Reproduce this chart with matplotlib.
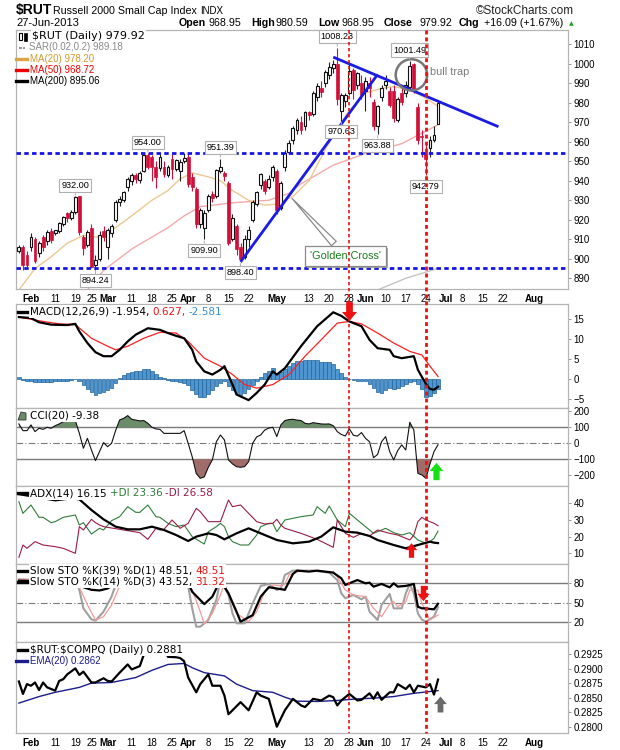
import matplotlib
matplotlib.use("Agg")
import numpy as np
import pandas as pd
import matplotlib.pyplot as plt
import matplotlib.patheffects as pe
from matplotlib import transforms
from matplotlib.lines import Line2D
from matplotlib.path import Path
from matplotlib.patches import Ellipse, Rectangle, Polygon
from matplotlib.ticker import FormatStrFormatter

plt.rcParams['font.family'] = ['Liberation Sans', 'DejaVu Sans']

W, H = 620, 750

# ---------------- trading calendar ----------------
holidays = ['2013-02-18', '2013-03-29', '2013-05-27', '2013-07-04']
cal = pd.bdate_range('2013-01-29', '2013-08-30')
cal = cal[~cal.isin(pd.to_datetime(holidays))]


def sess(md):
    return cal.get_loc(pd.Timestamp('2013-' + md))


# ---------------- daily candles, 29 Jan .. 27 Jun ----------------
opens = [904, 906, 902,
         906, 910, 903, 911, 909, 914, 913, 914, 918, 923.5,
         921, 924, 932, 911, 907, 916, 897, 900, 914, 906,
         913, 920, 929, 930, 937, 940, 943, 940.5, 945, 953,
         952, 947, 946.5, 947, 943, 951, 946, 945, 950, 952,
         942, 936, 918, 916, 925, 933, 932, 945, 944, 939,
         910, 917, 906, 901, 910, 920, 928, 938, 940, 937,
         942, 945, 926, 947, 955, 961, 966, 970, 968, 975,
         974, 983, 987.5, 990, 994, 998, 1000, 976, 981, 985,
         997, 989, 990, 986, 990, 980.5, 968, 983, 989, 986,
         986, 971, 985, 985, 988, 1000, 978, 963, 955, 957,
         961, 968.95]
highs = [907, 907, 904,
         913, 911, 909, 912, 915, 916, 915, 919, 922, 924,
         925, 932, 932, 912, 915, 918, 902, 914, 917, 916,
         918, 930, 932, 935, 942, 944, 944, 945, 953.5, 954,
         953, 950, 954, 950, 948, 954, 951, 951, 954, 954,
         944, 937, 926, 925, 933, 935, 946, 951.39, 945, 940,
         923, 918, 908, 912, 917, 930, 935, 944, 941, 943,
         948, 946, 940, 956, 961, 968, 972, 973, 976, 976,
         986, 990, 991, 997, 1001, 1002, 1008.23, 985, 985, 1001,
         998, 996, 994, 993, 993, 982, 979, 989, 994, 988,
         989, 983, 989, 991, 1001.49, 1000.5, 980, 966, 959, 963,
         968, 980.59]
lows = [903, 894, 896,
        904, 898, 901, 904, 907, 908, 912, 913, 917, 919,
        920, 923, 912, 902, 906, 895.5, 894.24, 899, 909, 900,
        911, 919, 927, 929, 935, 938, 939, 939, 944.5, 946,
        940, 936.5, 945, 942, 942, 941, 945, 940, 949, 937,
        935, 916, 916, 909.9, 924, 929, 931, 944, 940, 907,
        909, 902, 898.4, 900, 906, 919, 927, 936, 933, 936,
        940, 923, 925, 945, 954, 959, 964, 964, 966, 971,
        973, 981, 983, 988, 992, 995, 979, 970.63, 978, 984,
        982, 987, 982, 976, 983, 966, 963.88, 981, 987, 978,
        970, 970, 979, 983, 987, 985, 959, 952, 942.79, 952,
        960, 968.95]
closes = [906, 897, 897,
          911, 899, 908, 906, 913.5, 909.5, 914.5, 918.5, 921.5, 920.7,
          923.8, 931.8, 913.5, 905.3, 913.5, 896, 899.5, 912, 911, 914.5,
          917, 929, 930.5, 934, 941, 943, 941, 944, 953, 947,
          947, 942, 952, 943.5, 947, 946, 950.5, 949.5, 951.5, 938.5,
          937, 918, 925, 923.5, 932, 931, 945.5, 947, 942.5, 908,
          921, 905, 900, 910, 914.5, 929, 934, 943.5, 935, 941,
          947, 925, 939, 954, 959.5, 967, 971, 966, 975, 973.5,
          985, 988.5, 985.5, 996, 998.5, 1000, 982, 984, 984, 996.5,
          986.5, 995, 984, 991, 987.5, 968, 978.5, 987.5, 991, 979,
          972, 982, 980.5, 989, 999, 986, 961, 962.5, 951, 961,
          963.5, 979.92]

ma20_dates = ['01-29', '02-04', '02-08', '02-14', '02-21', '02-27', '03-05', '03-11', '03-18', '03-22',
              '03-27', '04-02', '04-08', '04-11', '04-16', '04-22', '04-26', '05-01', '05-07', '05-13',
              '05-17', '05-24', '05-28', '06-03', '06-07', '06-12', '06-18', '06-24', '06-27']
ma20_vals = [884, 895, 901, 908, 912, 911, 916, 922, 930, 935,
             941, 944, 942, 940, 935, 930, 927.5, 928, 932, 940,
             956, 973, 976, 985, 987.4, 988.3, 986.6, 982.3, 978.2]
ma50_dates = ['02-22', '02-28', '03-11', '03-22', '03-28', '04-04', '04-16', '04-29', '05-06', '05-09',
              '05-14', '05-21', '06-03', '06-14', '06-21', '06-27']
ma50_vals = [884, 894, 905, 916, 922, 926.7, 928.7, 930, 933.5, 938.5,
             942, 948, 954, 959, 964.4, 968.72]
ma200_dates = ['06-06', '06-17', '06-27']
ma200_vals = [884, 890, 895.06]

# analyst drawings on the price panel
support_levels = [954.0, 895.4]
uptrend_dates, uptrend_vals = ['04-18', '06-06'], [898.4, 994.5]
downtrend_dates, downtrend_vals = ['05-21', '07-19'], [1003.4, 967.7]
pivot_highs = ['05-22', '06-18', '03-15', '04-11', '02-19']
pivot_lows = ['05-23', '06-06', '06-24', '04-05', '04-18', '02-26']
event_dates = ['05-28', '06-24']

# ---------------- MACD ----------------
macd_dates = ['01-29', '02-01', '02-05', '02-08', '02-14', '02-19', '02-20', '02-22', '02-26', '02-28',
              '03-04', '03-06', '03-08', '03-12', '03-15', '03-20', '03-22', '03-26', '03-28', '04-02',
              '04-03', '04-05', '04-09', '04-11', '04-12', '04-16', '04-17', '04-22', '04-24', '04-26',
              '04-30', '05-01', '05-03', '05-09', '05-15', '05-21', '05-23', '05-28', '05-31', '06-04',
              '06-06', '06-11', '06-12', '06-14', '06-19', '06-20', '06-21', '06-24', '06-25', '06-26',
              '06-27']
macd_vals = [15.5, 15.25, 14.2, 13.6, 13.5, 13.8, 11.9, 9.0, 6.7, 5.7,
             5.7, 7.3, 9.4, 11.1, 12.7, 12.3, 11.5, 10.8, 10.2, 7.3,
             4.4, 1.9, 1.1, 2.3, 3.2, -1.4, -3.9, -5.3, -3.5, -1.4,
             1.9, 1.1, 2.7, 8.2, 13.2, 16.7, 15.8, 14.4, 13.2, 9.8,
             7.7, 7.3, 5.7, 5.2, 5.7, 2.3, 0.5, -1.2, -2.5, -2.7,
             -1.954]
signal_dates = ['01-29', '02-06', '02-12', '02-19', '02-25', '03-01', '03-05', '03-08', '03-14', '03-20',
                '03-26', '04-01', '04-05', '04-11', '04-16', '04-19', '04-24', '04-30', '05-06', '05-10',
                '05-16', '05-22', '05-28', '05-31', '06-06', '06-12', '06-18', '06-21', '06-25', '06-27']
signal_vals = [15.5, 14.4, 13.8, 13.6, 10.2, 8.2, 7.3, 8.2, 10.2, 11.7,
               11.5, 9.4, 5.2, 3.2, 1.1, -1.4, -2.3, -1.4, 1.1, 5.7,
               9.8, 14.0, 14.4, 13.8, 11.5, 9.0, 6.9, 6.0, 3.2, 0.627]
hist_vals = [0.6, -0.2, -0.4,
             -0.5, -0.8, -0.8, -0.8, -0.8, -0.8, -0.6, -0.5, -0.5, -0.4,
             -0.2, -0.1, -0.5, -1.5, -2.5, -3.3, -3.9, -3.6, -3.2, -2.8,
             -2.2, -1.0, 0.2, 1.0, 1.6, 1.8, 1.9, 2.0, 2.4, 2.5,
             2.0, 1.2, 0.6, 0.2, -0.3, -0.4, -0.5, -0.8, -1.0, -1.6,
             -2.8, -3.8, -4.4, -4.5, -3.8, -2.7, -1.8, -1.0, -0.6, -1.8,
             -2.8, -3.6, -4.0, -3.4, -2.6, -1.5, -0.4, 0.6, 1.4, 2.0,
             2.7, 1.5, 1.8, 2.6, 3.3, 4.0, 4.5, 4.6, 4.7, 4.8,
             4.8, 4.7, 4.3, 4.2, 4.2, 3.8, 2.5, 1.5, 0.6, 0.1,
             -0.2, -0.4, -0.5, -0.6, -1.2, -2.3, -3.2, -3.4, -2.8, -2.3,
             -2.6, -2.3, -1.8, -1.3, -0.7, -0.5, -1.2, -2.6, -4.6, -4.2,
             -3.6, -2.58]

# ---------------- CCI(20), daily ----------------
cci_vals = [121, 79, 79,
            115, 73, 94, 87, 100, 94, 110, 121, 135, 142,
            142, 142, 62, -31, 31, -42, -108, -52, 4, -21,
            0, 80, 146, 156, 173, 150, 145, 140, 142, 125,
            100, 90, 87, 62, 62, 62, 62, 62, 79, 0,
            -84, -188, -219, -210, -150, -104, 10, 52, 21, -104,
            -129, -146, -150, -146, -115, 0, 40, 52, 83, 95,
            100, 42, 115, 142, 148, 150, 145, 142, 125, 121,
            129, 125, 121, 120, 121, 110, 73, 55, 46, 90,
            50, 45, 67, 31, 10, -90, -70, 10, 42, -52,
            -104, -45, -10, -42, 131, 83, -188, -198, -219, -129,
            -52, -9.38]

# ---------------- ADX(14) ----------------
adx_dates = ['01-29', '02-05', '02-11', '02-15', '02-20', '02-25', '02-28', '03-05', '03-08', '03-13',
             '03-18', '03-21', '03-26', '04-01', '04-03', '04-08', '04-10', '04-12', '04-17', '04-22',
             '04-25', '05-01', '05-07', '05-13', '05-16', '05-21', '05-24', '05-30', '06-04', '06-06',
             '06-12', '06-17', '06-20', '06-25', '06-26', '06-27']
adx_vals = [45.5, 43.5, 41.8, 43, 42.4, 36, 30.4, 26, 24.4, 24.4,
            26, 24, 21, 17.4, 20, 22, 21, 18.4, 22, 25,
            22, 18, 16, 17, 20, 25.6, 23, 22.4, 20.4, 18,
            15, 13, 15, 17, 16.4, 16.15]
pdi_dates = ['01-29', '01-30', '02-01', '02-05', '02-06', '02-08', '02-11', '02-13', '02-19', '02-20',
             '02-21', '02-25', '02-27', '02-28', '03-04', '03-06', '03-08', '03-12', '03-13', '03-15',
             '03-19', '03-20', '03-22', '03-26', '03-28', '04-02', '04-04', '04-05', '04-08', '04-10',
             '04-11', '04-12', '04-15', '04-16', '04-18', '04-22', '04-24', '04-25', '04-29', '04-30',
             '05-01', '05-03', '05-09', '05-14', '05-15', '05-17', '05-20', '05-22', '05-24', '05-28',
             '05-30', '06-03', '06-05', '06-10', '06-12', '06-14', '06-18', '06-20', '06-24', '06-25',
             '06-26', '06-27']
pdi_vals = [41, 34, 39, 31.6, 31.6, 28.4, 29, 31.6, 33, 27,
            28.4, 21.6, 25, 24, 29.6, 32, 38, 34.6, 34.6, 39,
            32, 31.6, 28, 26, 27, 20, 17, 15.6, 23, 26,
            28, 26, 20, 17, 15, 15, 21, 26, 28, 28,
            23, 30, 32, 33, 38, 34, 38.4, 30, 26, 34,
            30, 26, 22, 25, 22.4, 21, 22.4, 18, 16, 17,
            19, 23.36]
mdi_dates = ['01-29', '01-30', '01-31', '02-04', '02-06', '02-11', '02-13', '02-19', '02-20', '02-21',
             '02-25', '02-26', '02-27', '02-28', '03-08', '03-13', '03-15', '03-19', '03-20', '03-21',
             '03-25', '03-27', '04-01', '04-03', '04-04', '04-08', '04-11', '04-15', '04-16', '04-18',
             '04-22', '04-24', '04-26', '04-30', '05-01', '05-02', '05-03', '05-09', '05-15', '05-21',
             '05-22', '05-24', '05-29', '05-31', '06-04', '06-06', '06-11', '06-13', '06-17', '06-18',
             '06-19', '06-20', '06-21', '06-24', '06-26', '06-27']
mdi_vals = [7.6, 15, 13, 17, 15, 14, 13, 10, 26, 24,
            30.4, 28.4, 27, 26, 23.6, 22.4, 18.4, 25, 24, 24.4,
            30, 25, 28, 37, 35, 29, 29, 42, 38, 39,
            34, 29, 27.6, 28, 30.4, 27, 25, 22, 18.4, 13.6,
            30, 22, 19.6, 22, 20.4, 24, 22, 21, 19, 18,
            21, 29, 31.6, 30, 28, 26.58]

# ---------------- Slow stochastics ----------------
k39_dates = ['01-29', '02-08', '02-19', '02-20', '02-21', '02-25', '02-27', '03-01', '03-04', '03-07',
             '03-15', '03-20', '03-27', '04-01', '04-02', '04-05', '04-09', '04-11', '04-15', '04-17',
             '04-18', '04-23', '04-25', '04-29', '05-01', '05-03', '05-07', '05-08', '05-13', '05-15',
             '05-21', '05-23', '05-24', '05-29', '05-30', '06-03', '06-04', '06-05', '06-07', '06-11',
             '06-12', '06-13', '06-17', '06-19', '06-20', '06-21', '06-24', '06-25', '06-26', '06-27']
k39_vals = [84, 83, 86, 80, 74, 70, 69, 72, 76, 84,
            87, 85, 84, 80, 67, 48, 59.5, 85, 64.6, 36.4,
            21, 31, 59.5, 74, 72, 70, 94.4, 99.5, 98, 99.5,
            96.4, 87.7, 77.4, 82.6, 85, 80, 81, 74.9, 79, 73.8,
            80, 74.9, 76, 79, 44, 41.5, 41.5, 40.5, 40, 48.51]
k14_dates = ['01-29', '02-11', '02-19', '02-20', '02-21', '02-25', '02-26', '02-28', '03-04', '03-05',
             '03-08', '03-15', '03-19', '03-22', '03-28', '04-01', '04-02', '04-03', '04-04', '04-08',
             '04-10', '04-11', '04-15', '04-16', '04-17', '04-19', '04-23', '04-25', '04-29', '05-01',
             '05-02', '05-03', '05-07', '05-14', '05-20', '05-22', '05-23', '05-24', '05-29', '05-31',
             '06-03', '06-04', '06-06', '06-07', '06-11', '06-12', '06-14', '06-17', '06-18', '06-19',
             '06-20', '06-21', '06-24', '06-26', '06-27']
k14_vals = [86, 84, 87, 70, 41.5, 24.6, 22.6, 36.4, 59.5, 78,
            86, 88, 82, 84, 86, 75, 41.5, 13.3, 13.3, 23.6,
            54.4, 85, 62, 33.8, 18.5, 18.5, 49, 76, 79, 69.7,
            72.3, 92.8, 99.5, 99.5, 96.4, 85, 64.6, 57, 62, 55.4,
            59.5, 36.4, 23.6, 46.7, 63.6, 41.5, 41.5, 64.6, 79, 64.6,
            33.8, 24, 21, 28.7, 43.52]
d3_dates = ['01-29', '02-19', '02-20', '02-22', '02-26', '02-28', '03-04', '03-06', '03-08', '03-15',
            '03-20', '03-28', '04-01', '04-02', '04-04', '04-05', '04-09', '04-11', '04-12', '04-15',
            '04-17', '04-22', '04-24', '04-26', '04-30', '05-02', '05-03', '05-06', '05-09', '05-21',
            '05-22', '05-24', '05-29', '06-03', '06-05', '06-07', '06-11', '06-12', '06-13', '06-17',
            '06-18', '06-20', '06-21', '06-25', '06-27']
d3_vals = [86, 86, 74, 46.7, 23.6, 28.7, 46.7, 76, 85, 88,
           84, 85, 80, 69.7, 36.4, 17.4, 33.8, 62, 80, 62,
           33.8, 21, 36.4, 67.2, 77.4, 76, 79, 92.8, 99.5, 98,
           90, 69.7, 62, 59.5, 41.5, 28.7, 48.2, 51.8, 44, 51.8,
           69.7, 69.7, 49, 23.6, 31.32]

# ---------------- $RUT:$COMPQ ----------------
ratio_dates = ['01-29', '01-30', '01-31', '02-01', '02-04', '02-05', '02-06', '02-07', '02-11', '02-12',
               '02-13', '02-14', '02-19', '02-20', '02-21', '02-25', '02-26', '02-28', '03-01', '03-04',
               '03-06', '03-08', '03-11', '03-13', '03-14', '03-18', '03-21', '03-22', '03-26', '03-27',
               '03-28', '04-01', '04-03', '04-04', '04-08', '04-09', '04-11', '04-12', '04-15', '04-16',
               '04-18', '04-22', '04-24', '04-25', '04-29', '05-01', '05-02', '05-03', '05-07', '05-09',
               '05-10', '05-14', '05-16', '05-20', '05-21', '05-22', '05-23', '05-28', '05-30', '05-31',
               '06-04', '06-05', '06-06', '06-07', '06-11', '06-12', '06-13', '06-17', '06-18', '06-19',
               '06-20', '06-24', '06-25', '06-26', '06-27']
ratio_vals = [0.28777, 0.28563, 0.28732, 0.28704, 0.2876, 0.2863, 0.2876, 0.28676, 0.2862, 0.28788,
              0.28816, 0.289, 0.29002, 0.2889, 0.28946, 0.2876, 0.2876, 0.28833, 0.28788, 0.28777,
              0.28929, 0.2907, 0.28985, 0.29042, 0.29239, 0.2935, 0.2935, 0.292, 0.29194, 0.2918,
              0.29126, 0.28845, 0.28591, 0.28732, 0.289, 0.28704, 0.28704, 0.28535, 0.28214, 0.28282,
              0.28422, 0.28282, 0.28591, 0.28535, 0.28479, 0.28, 0.28141, 0.28282, 0.28479, 0.28366,
              0.28338, 0.28479, 0.28451, 0.28535, 0.28507, 0.28366, 0.28451, 0.28563, 0.28451, 0.28462,
              0.28574, 0.28479, 0.28591, 0.28462, 0.28591, 0.28591, 0.28732, 0.28648, 0.28721, 0.28591,
              0.28704, 0.28676, 0.28732, 0.28552, 0.2881]
ema_dates = ['01-29', '02-05', '02-11', '02-20', '02-25', '03-04', '03-12', '03-18', '03-22', '03-28',
             '04-02', '04-05', '04-12', '04-17', '04-23', '04-30', '05-03', '05-08', '05-15', '05-22',
             '05-30', '06-05', '06-12', '06-19', '06-27']
ema_vals = [0.28406, 0.28518, 0.28591, 0.28676, 0.28749, 0.2876, 0.28845, 0.28969, 0.2907, 0.29087,
            0.29014, 0.28929, 0.28873, 0.28732, 0.2862, 0.28591, 0.28507, 0.28439, 0.28434, 0.28451,
            0.28479, 0.2849, 0.28518, 0.28574, 0.2862]

tick_dates = ['02-01', '02-11', '02-19', '02-25', '03-01', '03-11', '03-18', '03-25', '04-01', '04-08',
              '04-15', '04-22', '05-01', '05-13', '05-20', '05-28', '06-03', '06-10', '06-17', '06-24',
              '07-01', '07-08', '07-15', '07-22', '08-01']
tick_labels = ['Feb', '11', '19', '25', 'Mar', '11', '18', '25', 'Apr', '8',
               '15', '22', 'May', '13', '20', '28', 'Jun', '10', '17', '24',
               'Jul', '8', '15', '22', 'Aug']

RED = '#d10f3a'
MA20_C, MA50_C = '#ebc98f', '#f5aaaa'


def xs(dates):
    return [sess(d) for d in dates]


# ---------------- figure ----------------
fig = plt.figure(figsize=(W / 100, H / 100), dpi=100)
fig.patch.set_facecolor('white')
rend = fig.canvas.get_renderer()


def fx(x):
    return x / W


def fy(y):
    return 1 - y / H


def row(x, y, pieces, size=7.0, family=None, bg=True, gap=3):
    for p in pieces:
        txt, color = p[0], p[1]
        weight = p[2] if len(p) > 2 else 'normal'
        kw = dict(color=color, fontsize=size, fontweight=weight, va='center', ha='left')
        if family:
            kw['family'] = family
        t = fig.text(fx(x), fy(y), txt, **kw)
        if bg:
            t.set_bbox(dict(facecolor='white', edgecolor='none', pad=1.0))
        x += t.get_window_extent(rend).width + gap
    return x


def icon(x0, x1, y, color, lw=2.4):
    fig.add_artist(Line2D([fx(x0), fx(x1)], [fy(y), fy(y)], color=color, lw=lw,
                          transform=fig.transFigure, zorder=5))


def panel(top, bottom, ylim, yticks):
    ax = fig.add_axes([16 / W, 1 - bottom / H, 552 / W, (bottom - top) / H])
    ax.set_xlim(-0.72, 136.25)
    ax.set_ylim(*ylim)
    ax.set_yticks(yticks)
    ax.yaxis.tick_right()
    ax.tick_params(axis='y', direction='out', length=2.5, width=0.7, color='#999999',
                   labelsize=7, pad=1.5)
    ax.set_xticks([])
    for sp in ax.spines.values():
        sp.set_color('#b4b4b4')
        sp.set_linewidth(0.9)
    return ax


def date_ticks(ax):
    ax.set_xticks(xs(tick_dates))
    ax.set_xticklabels(tick_labels)
    ax.tick_params(axis='x', length=0, labelsize=7, pad=3.5)
    for lab in ax.get_xticklabels():
        if not lab.get_text().isdigit():
            lab.set_fontweight('bold')


ax = panel(30, 289, (884.5, 1017.3), np.arange(890, 1011, 10))
ax_macd = panel(304.3, 407.7, (-7.2, 18.7), [-5, 0, 5, 10, 15])
ax_cci = panel(407.7, 486, (-267, 222.5), [-200, -100, 0, 100, 200])
ax_adx = panel(486, 564, (3.6, 50.4), [10, 20, 30, 40])
ax_sto = panel(564, 641.7, (-9.8, 109.7), [20, 50, 80])
ax_rat = panel(641.7, 732.7, (0.27897, 0.29461), np.arange(0.28, 0.29251, 0.0025))
ax_rat.yaxis.set_major_formatter(FormatStrFormatter('%.4f'))
date_ticks(ax)
date_ticks(ax_rat)

# ---------------- price panel ----------------
n = len(closes)
xc = np.arange(n)
o, hi, lo, c = map(np.array, (opens, highs, lows, closes))
up = c >= o
ax.plot(xs(ma200_dates), ma200_vals, color='#c4c4c4', lw=1.0, zorder=2)
ax.plot(xs(ma50_dates), ma50_vals, color=MA50_C, lw=1.0, zorder=2)
ax.plot(xs(ma20_dates), ma20_vals, color=MA20_C, lw=1.0, zorder=2)
ax.vlines(xc[up], lo[up], hi[up], color='#222222', lw=0.8, zorder=3)
ax.vlines(xc[~up], lo[~up], hi[~up], color=RED, lw=0.8, zorder=3)
body_lo = np.minimum(o, c)
body_h = np.maximum(np.abs(c - o), 0.5)
ax.bar(xc[up], body_h[up], bottom=body_lo[up], width=0.72, facecolor='white',
       edgecolor='#111111', lw=0.8, zorder=4)
ax.bar(xc[~up], body_h[~up], bottom=body_lo[~up], width=0.72, facecolor=RED,
       edgecolor=RED, lw=0.5, zorder=4)

for lvl in support_levels:
    ax.axhline(lvl, color='#1515e8', lw=2, ls=(0, (1.6, 1.2)), zorder=5)
ax.plot(xs(uptrend_dates), uptrend_vals, color='#1b1be6', lw=2, zorder=5, solid_capstyle='butt')
ax.plot(xs(downtrend_dates), downtrend_vals, color='#1b1be6', lw=2, zorder=5, solid_capstyle='butt')

label_box = dict(boxstyle='square,pad=0.22', facecolor='white', edgecolor='#b0b0b0', lw=0.8)
for d in pivot_highs:
    i = sess(d)
    ax.annotate(f'{highs[i]:.2f}', xy=(i, highs[i]), xytext=(0, 7.8), textcoords='offset points',
                ha='center', va='center', fontsize=6.6, bbox=label_box, zorder=7,
                arrowprops=dict(arrowstyle='-', color='#b0b0b0', lw=0.7, shrinkA=0, shrinkB=1))
for d in pivot_lows:
    i = sess(d)
    ax.annotate(f'{lows[i]:.2f}', xy=(i, lows[i]), xytext=(0, -7.8), textcoords='offset points',
                ha='center', va='center', fontsize=6.6, bbox=label_box, zorder=7,
                arrowprops=dict(arrowstyle='-', color='#b0b0b0', lw=0.7, shrinkA=0, shrinkB=1))

ax.add_patch(Ellipse((sess('06-18') + 0.4, 994.3), width=7.8, height=16, fill=False,
                     edgecolor='#777777', lw=1.8, zorder=6))
ax.text(sess('06-25'), 996, 'bull trap', color='#7a7a7a', fontsize=7.8, va='center', ha='left')

gc = ax.annotate("'Golden Cross'", xy=(sess('05-06') + 0.3, 932), xytext=(sess('05-24'), 901.5),
                 ha='center', va='center', fontsize=7.8, color='#1c7a1c', zorder=7,
                 bbox=dict(boxstyle='square,pad=0.45', facecolor='white', edgecolor='#8a8a8a', lw=0.9),
                 arrowprops=dict(arrowstyle='wedge,tail_width=0.6,shrink_factor=0.5',
                                 facecolor='white', edgecolor='#8a8a8a', lw=0.9))
gc.get_bbox_patch().set_path_effects([pe.withSimplePatchShadow(offset=(1.5, -1.5),
                                                               shadow_rgbFace='#a0a0a0', alpha=0.9)])

# ---------------- MACD ----------------
ax_macd.bar(xc, hist_vals, width=0.92, facecolor='#4f96d0', edgecolor='#23649c', lw=0.5, zorder=1)
ax_macd.plot(xs(signal_dates), signal_vals, color='#ff2020', lw=0.9, zorder=2)
ax_macd.plot(xs(macd_dates), macd_vals, color='black', lw=1.6, zorder=3)

# ---------------- CCI ----------------
cci = np.array(cci_vals, dtype=float)
for lvl in (100, -100):
    ax_cci.axhline(lvl, color='#7a7a7a', lw=1.0, zorder=1)
ax_cci.axhline(0, color='#7a7a7a', lw=0.8, ls=(0, (6, 2, 1, 2)), zorder=1)
ax_cci.fill_between(xc, cci, 100, where=cci >= 100, interpolate=True, color='#6a8c69', lw=0, zorder=2)
ax_cci.fill_between(xc, cci, -100, where=cci <= -100, interpolate=True, color='#a06c6a', lw=0, zorder=2)
ax_cci.plot(xc, cci, color='#111111', lw=0.8, zorder=3)

# ---------------- ADX ----------------
ax_adx.plot(xs(pdi_dates), pdi_vals, color='#2f7d3a', lw=0.8, zorder=2)
ax_adx.plot(xs(mdi_dates), mdi_vals, color='#9b1b45', lw=0.8, zorder=2)
ax_adx.plot(xs(adx_dates), adx_vals, color='black', lw=1.6, zorder=3)

# ---------------- Stochastics ----------------
for lvl in (80, 20):
    ax_sto.axhline(lvl, color='#7a7a7a', lw=1.0, zorder=1)
ax_sto.axhline(50, color='#7a7a7a', lw=0.8, ls=(0, (6, 2, 1, 2)), zorder=1)
ax_sto.plot(xs(k14_dates), k14_vals, color='#a0a0a0', lw=1.5, zorder=2)
ax_sto.plot(xs(d3_dates), d3_vals, color='#f39a9a', lw=0.9, zorder=2)
ax_sto.plot(xs(k39_dates), k39_vals, color='black', lw=1.6, zorder=3)

# ---------------- ratio ----------------
ax_rat.plot(xs(ema_dates), ema_vals, color='#1c1c8c', lw=1.0, zorder=2)
ax_rat.plot(xs(ratio_dates), ratio_vals, color='black', lw=1.6, zorder=3)

# ---------------- signal arrows ----------------
up_verts = [(-0.36, -1), (0.36, -1), (0.36, 0.05), (0.8, 0.05), (0, 1), (-0.8, 0.05),
            (-0.36, 0.05), (-0.36, -1)]
arrow_up = Path(up_verts, closed=True)
arrow_down = Path([(vx, -vy) for vx, vy in up_verts], closed=True)
signal_arrows = [
    (ax_macd, sess('05-28'), 17.0, arrow_down, '#ee1111', 13.5),
    (ax_cci, sess('06-26') + 0.5, -176, arrow_up, '#16e016', 12.5),
    (ax_adx, sess('06-18') + 0.4, 12.0, arrow_up, '#ee1111', 10.5),
    (ax_sto, sess('06-21') + 0.3, 65.8, arrow_down, '#ee1111', 11),
    (ax_rat, sess('06-27') + 0.4, 0.2839, arrow_up, '#6a6a6a', 11.5),
]
for a, sx, sy, mk, col, ms in signal_arrows:
    a.plot([sx], [sy], marker=mk, ms=ms, color=col, mec=col, mew=0, ls='none',
           clip_on=False, zorder=10)

# red dashed event lines through all panels
blend = transforms.blended_transform_factory(ax.transData, fig.transFigure)
for d, lw, dash in zip(event_dates, (1.2, 2.0), ((2, 1.6), (1.4, 1.1))):
    fig.add_artist(Line2D([sess(d), sess(d)], [fy(30), fy(732.7)], color='#ee1111', lw=lw,
                          ls=(0, dash), transform=blend, zorder=2))

# ---------------- header ----------------
fig.text(fx(16), fy(10), '$RUT', fontsize=10, fontweight='bold', va='center', ha='left')
fig.text(fx(53), fy(11), 'Russell 2000 Small Cap Index', fontsize=7.7, va='center', ha='left')
fig.text(fx(200), fy(11), 'INDX', fontsize=7, va='center', ha='left')
fig.text(fx(574), fy(11), '\u00a9StockCharts.com', fontsize=8.5, ha='right', va='center', color='#222222')
fig.text(fx(16), fy(23), '27-Jun-2013', fontsize=8, va='center')
for px, txt, wt in [(179, 'Open', 'bold'), (208, '968.95', 'normal'), (251, 'High', 'bold'),
                    (276, '980.59', 'normal'), (318, 'Low', 'bold'), (341, '968.95', 'normal'),
                    (384, 'Close', 'bold'), (419, '979.92', 'normal'), (459, 'Chg', 'bold'),
                    (484, '+16.09 (+1.67%)', 'normal')]:
    fig.text(fx(px), fy(23), txt, fontsize=7.7, fontweight=wt, va='center', ha='left')
fig.text(fx(569), fy(23.5), '\u25b2', fontsize=4.5, color='#22a022', va='center', ha='left',
         family='DejaVu Sans')

# ---------------- legends ----------------
fig.add_artist(Rectangle((fx(19), fy(40)), 3 / W, 7 / H, facecolor='white', edgecolor='black', lw=0.8,
                         transform=fig.transFigure, zorder=5))
fig.add_artist(Rectangle((fx(24), fy(41)), 3 / W, 8 / H, facecolor='black', edgecolor='black', lw=0.5,
                         transform=fig.transFigure, zorder=5))
row(32, 36, [('$RUT (Daily) 979.92', 'black')], size=8, family='DejaVu Sans')
for sqx in (19, 23):
    fig.add_artist(Rectangle((fx(sqx), fy(49)), 2.5 / W, 2.5 / H, facecolor='#999999', edgecolor='none',
                             transform=fig.transFigure, zorder=5))
row(29, 47.5, [('SAR(0.02,0.2) 989.18', '#8a8a8a')])
icon(16, 27, 59, '#d9a441')
row(30, 59, [('MA(20) 978.20', '#d49a2a')])
icon(16, 27, 70, '#ee0000')
row(30, 70, [('MA(50) 968.72', '#ee0000')])
icon(16, 27, 81, 'black')
row(30, 81, [('MA(200) 895.06', 'black')])

icon(18, 27, 311.7, 'black')
row(30, 311.7, [('MACD(12,26,9) -1.954,', 'black'), ('0.627,', '#ee1111'), ('-2.581', '#3a8fd0')],
    size=7.5, family='DejaVu Sans')

fig.add_artist(Polygon([(fx(18), fy(420)), (fx(21), fy(412)), (fx(26), fy(413)), (fx(26), fy(420))],
                       closed=True, facecolor='#6a8c69', edgecolor='#333333', lw=0.6,
                       transform=fig.transFigure, zorder=5))
row(30, 416, [('CCI(20) -9.38', 'black')], size=7.5, family='DejaVu Sans')

icon(18, 27, 493.3, 'black')
row(30, 493.3, [('ADX(14) 16.15', 'black'), ('+DI 23.36', '#2f7d3a'), ('-DI 26.58', '#9b1b45')],
    size=7.5, family='DejaVu Sans')

icon(18, 27, 570.7, 'black')
row(30, 570.7, [('Slow STO %K(39) %D(1) 48.51,', 'black'), ('48.51', '#ee1111')],
    size=7.5, family='DejaVu Sans')
icon(18, 27, 581.7, 'black')
row(30, 581.7, [('Slow STO %K(14) %D(3) 43.52,', 'black'), ('31.32', '#ee1111')],
    size=7.5, family='DejaVu Sans')

icon(18, 27, 650, 'black')
row(30, 650, [(r'\$RUT:\$COMPQ (Daily) 0.2881', 'black')], size=7.5, family='DejaVu Sans')
icon(16, 27, 661, '#1c1c8c')
row(30, 661, [('EMA(20) 0.2862', '#1c1c8c')])

fig.savefig('out.png', dpi=100, facecolor='white')
